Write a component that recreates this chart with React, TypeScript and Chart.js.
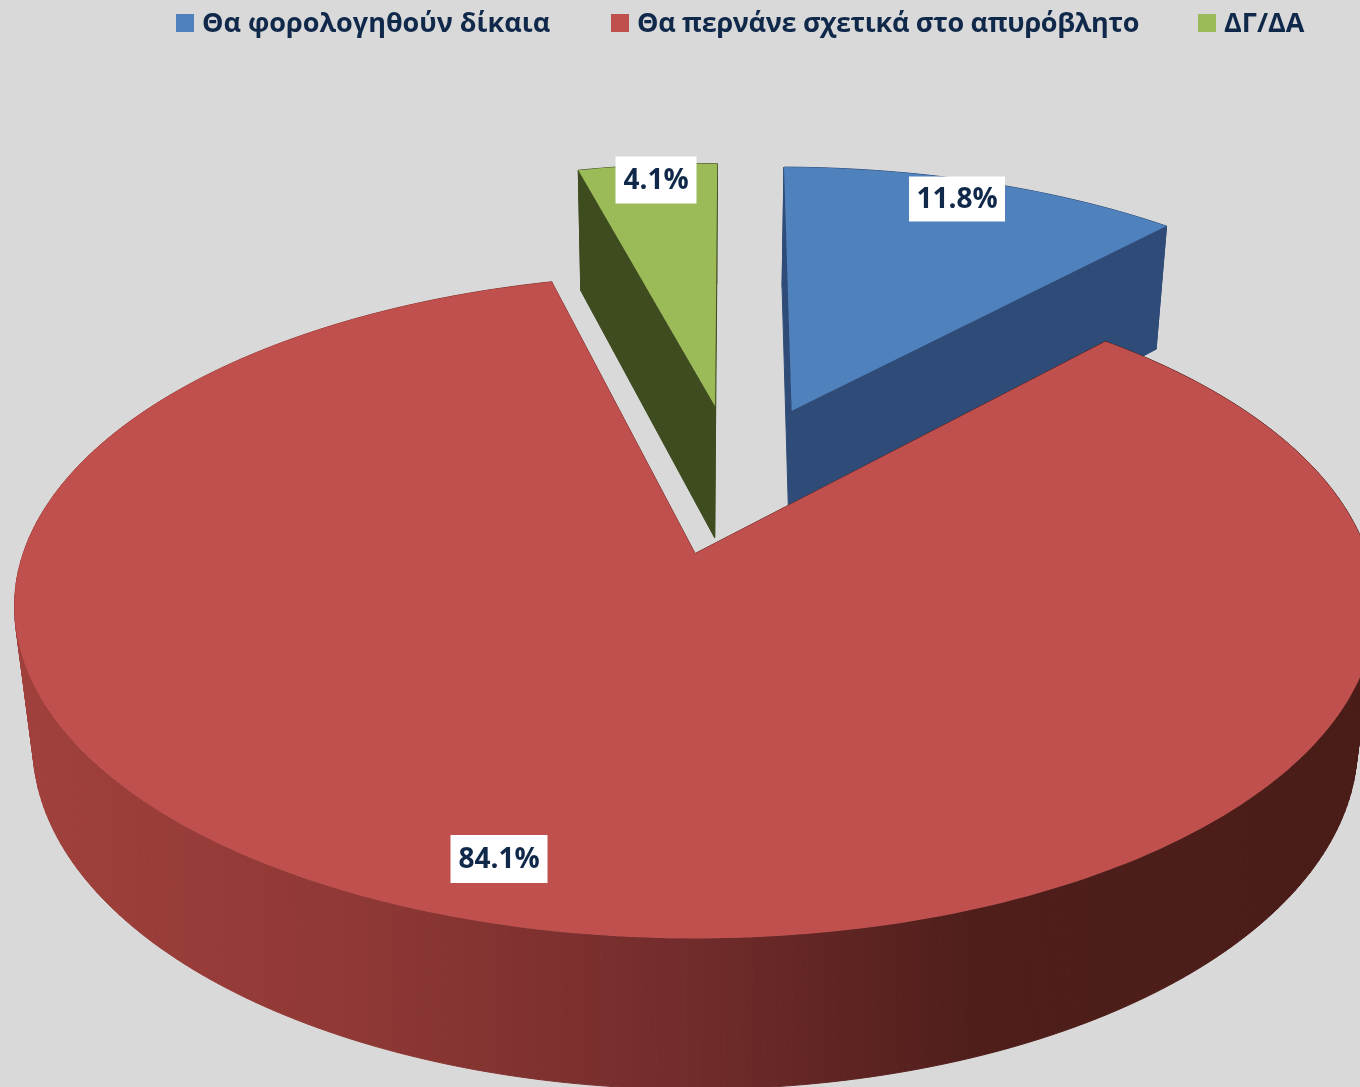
import React, { useEffect, useRef } from "react";
import { Chart, registerables } from "chart.js";

Chart.register(...registerables);

const categories = ["Θα φορολογηθούν δίκαια", "Θα περνάνε σχετικά στο απυρόβλητο", "ΔΓ/ΔΑ"];
const seriesValues = [11.8, 84.1, 4.1];
const topColors = ["#4f81bd", "#c0504d", "#9bbb59"];
const sideColors = ["#2f4c78", "#4c1d1a", "#3f4c1f"];

const BG = "#d9d9d9";
const INK = "#10294a";
const FONT = '"Open Sans", "Noto Sans", sans-serif';

// Perspective camera for the tilted pie
const CX = 695, CY = 478, SX = 647, SY = 300, K = 0.1534, DEPTH_W = 0.026, DEPTH_H = 138;
const EXPLODE = 0.25;
const PIE_SHIFT_U = 0.0622;
const LABEL_CENTERS = [
  [957, 199],
  [499, 859],
  [656, 180],
];
const LABEL_BOX = [
  [96, 45],
  [97, 48],
  [81, 47],
];
const LEGEND_X = [176, 611, 1198];
const LEGEND_SPACING = ["0px", "-0.3px", "0px"];

function project(u: number, v: number, bottom: boolean): [number, number] {
  const w = 1 - K * v + (bottom ? DEPTH_W : 0);
  const yy = SY * v + (bottom ? DEPTH_H : 0);
  return [CX + (SX * u) / w, CY + yy / w];
}

const pie3d = {
  id: "pie3d",
  beforeDraw(chart: any) {
    const { ctx, width, height } = chart;
    ctx.save();
    ctx.fillStyle = BG;
    ctx.fillRect(0, 0, width, height);
    ctx.restore();
  },
  beforeDatasetsDraw(chart: any) {
    const { ctx } = chart;
    const arcs = chart.getDatasetMeta(0).data;
    const slices = arcs.map((a: any, i: number) => {
      const mid = (a.startAngle + a.endAngle) / 2;
      return {
        i,
        start: a.startAngle,
        end: a.endAngle,
        u0: Math.cos(mid) * EXPLODE + PIE_SHIFT_U,
        v0: Math.sin(mid) * EXPLODE,
      };
    });
    slices.sort((p: any, q: any) => p.v0 - q.v0);

    const wallGrad = ctx.createLinearGradient(30, 0, 1340, 0);
    wallGrad.addColorStop(0, "#a0403c");
    wallGrad.addColorStop(0.25, "#8f3835");
    wallGrad.addColorStop(0.5, "#722c2b");
    wallGrad.addColorStop(0.72, "#4f1e1b");
    wallGrad.addColorStop(1, "#4a1c18");

    for (const s of slices) {
      const n = Math.max(4, Math.ceil(((s.end - s.start) * 180) / Math.PI));
      const rim: [number, number][] = [];
      for (let k = 0; k <= n; k++) {
        const a = s.start + ((s.end - s.start) * k) / n;
        rim.push([s.u0 + Math.cos(a), s.v0 + Math.sin(a)]);
      }
      const side = s.i === 1 ? wallGrad : sideColors[s.i];
      ctx.fillStyle = side;
      ctx.strokeStyle = side;
      ctx.lineWidth = 1;
      const quad = (a: [number, number], b: [number, number]) => {
        const p = [project(a[0], a[1], false), project(b[0], b[1], false), project(b[0], b[1], true), project(a[0], a[1], true)];
        ctx.beginPath();
        ctx.moveTo(p[0][0], p[0][1]);
        for (let j = 1; j < 4; j++) ctx.lineTo(p[j][0], p[j][1]);
        ctx.closePath();
        ctx.fill();
        ctx.stroke();
      };
      const apex: [number, number] = [s.u0, s.v0];
      quad(apex, rim[0]);
      quad(apex, rim[n]);
      for (let k = 0; k < n; k++) quad(rim[k], rim[k + 1]);

      ctx.fillStyle = topColors[s.i];
      ctx.beginPath();
      const c = project(apex[0], apex[1], false);
      ctx.moveTo(c[0], c[1]);
      for (const r of rim) {
        const p = project(r[0], r[1], false);
        ctx.lineTo(p[0], p[1]);
      }
      ctx.closePath();
      ctx.fill();
    }
    return false;
  },
  afterDraw(chart: any) {
    const { ctx } = chart;
    ctx.save();
    // data labels
    ctx.font = `bold 28px ${FONT}`;
    ctx.textAlign = "center";
    ctx.textBaseline = "middle";
    seriesValues.forEach((val, i) => {
      const [x, y] = LABEL_CENTERS[i];
      const [w, h] = LABEL_BOX[i];
      ctx.fillStyle = "#ffffff";
      ctx.fillRect(x - w / 2, y - h / 2, w, h);
      ctx.fillStyle = INK;
      ctx.fillText(`${val.toFixed(1)}%`, x, y + 1);
    });
    // legend
    ctx.textAlign = "left";
    ctx.font = `bold 27px ${FONT}`;
    categories.forEach((label, i) => {
      const x = LEGEND_X[i];
      ctx.fillStyle = topColors[i];
      ctx.fillRect(x, 14, 18, 18);
      ctx.fillStyle = INK;
      (ctx as any).letterSpacing = LEGEND_SPACING[i];
      ctx.fillText(label, x + 26, 24);
    });
    ctx.restore();
  },
};

export default function App() {
  const ref = useRef<HTMLCanvasElement>(null);
  useEffect(() => {
    document.body.style.margin = "0";
    document.body.style.overflow = "hidden";
    const chart = new Chart(ref.current as HTMLCanvasElement, {
      type: "pie",
      data: {
        labels: categories,
        datasets: [{ data: seriesValues, backgroundColor: topColors, borderWidth: 0 }],
      },
      options: {
        responsive: false,
        animation: false,
        rotation: 0.5,
        plugins: { legend: { display: false }, tooltip: { enabled: false } },
      },
      plugins: [pie3d],
    } as any);
    return () => chart.destroy();
  }, []);
  return <canvas ref={ref} width={1360} height={1087} style={{ display: "block", width: 1360, height: 1087 }} />;
}
